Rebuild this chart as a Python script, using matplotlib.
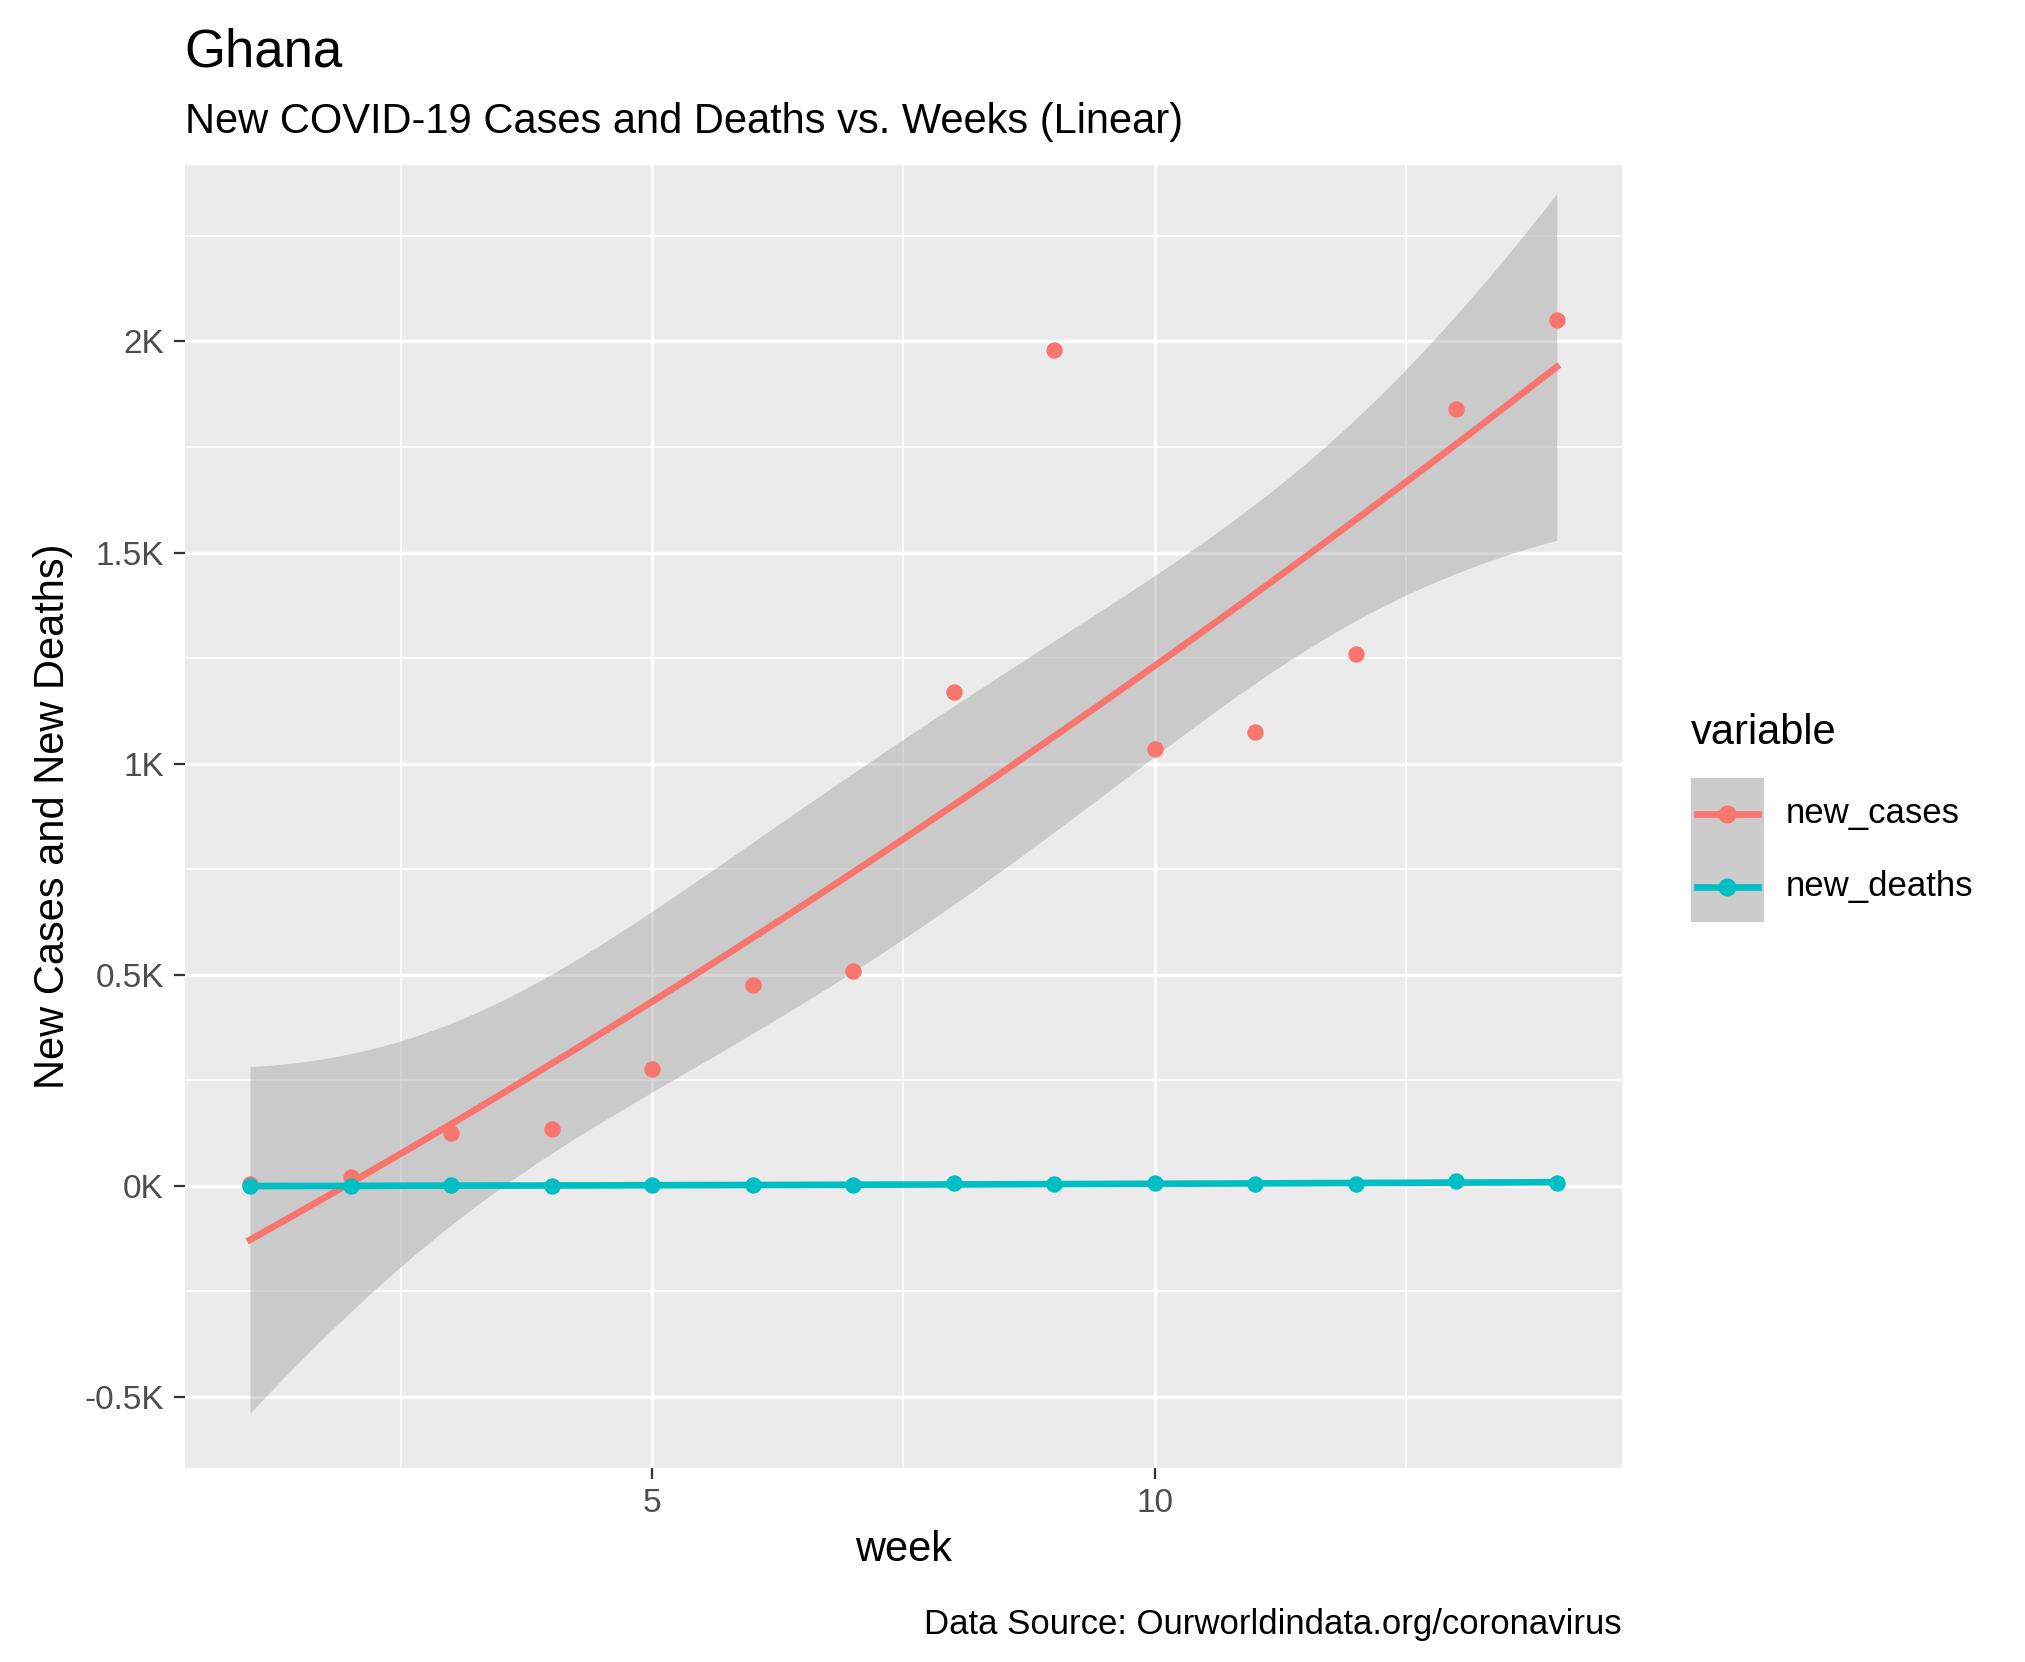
import numpy as np
import matplotlib
matplotlib.use("Agg")
import matplotlib.pyplot as plt
from matplotlib.lines import Line2D
from matplotlib.patches import Rectangle

plt.rcParams['font.family'] = ['Liberation Sans', 'DejaVu Sans']

weeks = np.arange(1, 15)
new_cases = np.array([5, 20, 125, 135, 278, 475, 508, 1170, 1980, 1035, 1075, 1260, 1840, 2050])
new_deaths = np.array([0, 0, 1, 0, 2, 1, 2, 6, 4, 6, 4, 5, 12, 7])

RED = '#F8766D'
CYAN = '#00BFC4'

def fit(x, y, deg=2):
    X = np.vander(x, deg + 1)
    beta, *_ = np.linalg.lstsq(X, y, rcond=None)
    xs = np.linspace(x.min(), x.max(), 200)
    Xs = np.vander(xs, deg + 1)
    yh = Xs @ beta
    resid = y - X @ beta
    s2 = resid @ resid / (len(x) - deg - 1)
    cov = s2 * np.linalg.inv(X.T @ X)
    se = np.sqrt(np.einsum('ij,jk,ik->i', Xs, cov, Xs))
    t = 1.7
    return xs, yh, yh - t * se, yh + t * se

fig = plt.figure(figsize=(10.125, 8.31), dpi=200)
ax = fig.add_axes([0.0912, 0.117, 0.7098, 0.784])
ax.set_facecolor('#EBEBEB')
for s in ax.spines.values():
    s.set_visible(False)
ax.set_xlim(0.35, 14.65)
ax.set_ylim(-667, 2419)
ax.set_xticks([5, 10])
ax.set_xticks([2.5, 7.5, 12.5], minor=True)
ax.set_yticks([-500, 0, 500, 1000, 1500, 2000])
ax.set_yticklabels(['-0.5K', '0K', '0.5K', '1K', '1.5K', '2K'])
ax.set_yticks([-250, 250, 750, 1250, 1750, 2250], minor=True)
ax.grid(which='major', color='white', lw=1.2)
ax.grid(which='minor', color='white', lw=0.6)
ax.set_axisbelow(True)
ax.tick_params(which='major', length=4, color='#333333', labelsize=12, labelcolor='#4D4D4D')
ax.tick_params(which='minor', length=0)

for y, c in [(new_cases, RED), (new_deaths, CYAN)]:
    xs, yh, lo, hi = fit(weeks.astype(float), y.astype(float))
    ax.fill_between(xs, lo, hi, color='#999999', alpha=0.4, lw=0, zorder=2)
    ax.plot(xs, yh, color=c, lw=2.4, zorder=3)
    ax.scatter(weeks, y, color=c, s=24, zorder=4)

ax.set_xlabel('week', fontsize=15)
ax.set_ylabel('New Cases and New Deaths)', fontsize=15)

fig.text(0.0912, 0.960, 'Ghana', fontsize=19, va='baseline')
fig.text(0.0912, 0.920, 'New COVID-19 Cases and Deaths vs. Weeks (Linear)', fontsize=15, va='baseline')
fig.text(0.801, 0.017, 'Data Source: Ourworldindata.org/coronavirus', fontsize=12.5, ha='right', va='baseline')

# legend
fig.text(0.835, 0.547, 'variable', fontsize=15, va='bottom')
fig.patches.append(Rectangle((0.835, 0.445), 0.036, 0.087, transform=fig.transFigure,
                             facecolor='#CCCCCC', edgecolor='none'))
for yy, c, lab in [(0.5105, RED, 'new_cases'), (0.4665, CYAN, 'new_deaths')]:
    fig.add_artist(Line2D([0.838, 0.868], [yy, yy], transform=fig.transFigure, color=c, lw=2.4))
    fig.add_artist(Line2D([0.853], [yy], transform=fig.transFigure, color=c, marker='o', ms=5.5))
    fig.text(0.882, yy, lab, fontsize=12.5, va='center')

fig.savefig('out.png', dpi=200)
